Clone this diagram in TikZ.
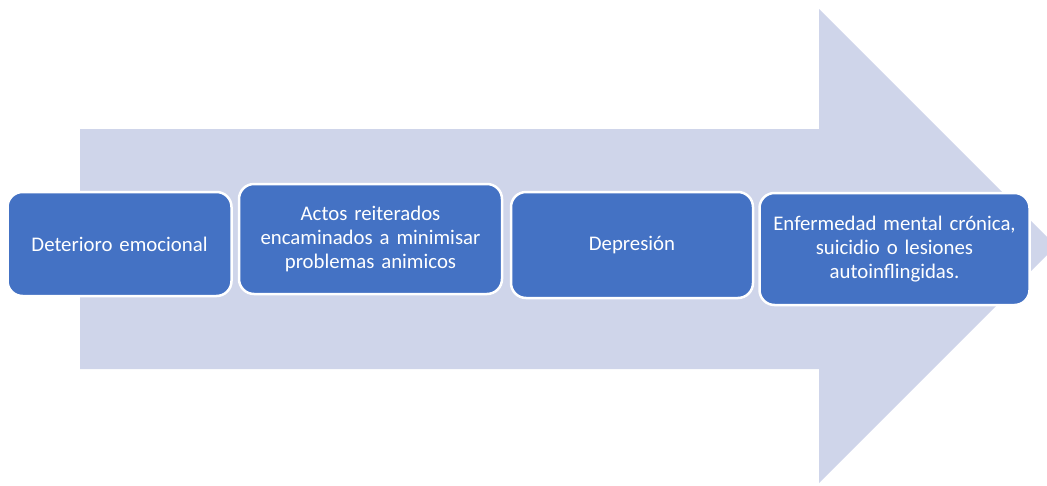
\documentclass[tikz,border=0pt]{standalone}
\usepackage{fontspec}
\setmainfont{Carlito}
\definecolor{arrowfill}{HTML}{CFD5EA}
\definecolor{boxblue}{HTML}{4472C4}
\begin{document}
\begin{tikzpicture}[x=1pt,y=-1pt,
  stepbox/.style={draw=white, line width=2.5pt, fill=boxblue, rounded corners=15pt,
    text=white, align=center, inner sep=0pt,
    font=\fontsize{20.8}{24}\selectfont}]
\useasboundingbox (0,0) rectangle (1047,485);
\begin{scope}
\clip (0,0) rectangle (1047,485);
\fill[arrowfill] (80,129) -- (819,129) -- (819,9) -- (1056,246) -- (819,483) -- (819,369) -- (80,369) -- cycle;
\end{scope}
\node[stepbox, minimum width=224pt, minimum height=104pt, text width=210pt] (b1) at (119.5,244) {Deterioro emocional};
\node[stepbox, minimum width=263pt, minimum height=110pt, text width=250pt] (b2) at (370.5,239) {Actos reiterados\\encaminados a minimisar\\problemas animicos};
\node[stepbox, minimum width=242pt, minimum height=106pt, text width=228pt] (b3) at (632,245) {Depresión};
\node[stepbox, minimum width=270pt, minimum height=112pt, text width=262pt] (b4) at (894.5,249) {Enfermedad mental crónica,\\suicidio o lesiones\\autoinflingidas.};
\end{tikzpicture}
\end{document}
